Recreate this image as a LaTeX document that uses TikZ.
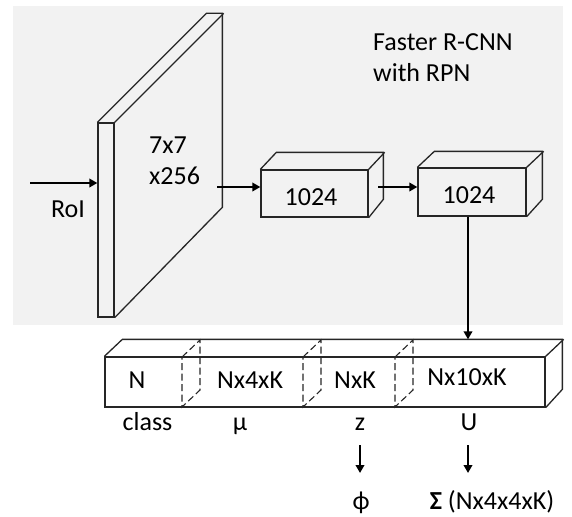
\documentclass[tikz,border=0pt]{standalone}
\usepackage{fontspec}
\setmainfont{Carlito}
\usetikzlibrary{arrows.meta}
\begin{document}
\begin{tikzpicture}[x=1pt,y=-1pt,
  face/.style={draw=black!85,line width=1.3pt,line join=miter},
  frontface/.style={face,rectangle,inner sep=0pt},
  hid/.style={draw=black!85,line width=1.1pt,dash pattern=on 7pt off 3.5pt},
  arr/.style={draw=black,line width=2.4pt,-{Triangle[length=8pt,width=8.5pt]}},
  lbl/.style={font=\fontsize{26}{31}\selectfont,text=black,inner sep=0pt}]
\useasboundingbox (0,0) rectangle (572,516);
\fill[black!5] (13,6) rectangle (563,325);
% slab
\node[frontface,minimum width=16pt,minimum height=194pt] (slab) at (106,220) {};
\draw[face] (slab.north west) -- ++(109,-109) -- ++(16,0) -- ++(0,194) -- (slab.south east);
\draw[face] (slab.north east) -- ++(109,-109);
\node[lbl,align=left,anchor=base west] (t77) at (149,184) {7x7\\x256};
% box1
\node[frontface,minimum width=107pt,minimum height=47pt] (box1) at (314.5,193.5) {};
\draw[face] (box1.north west) -- ++(16,-17) -- ++(107,0) -- ++(0,47) -- (box1.south east);
\draw[face] (box1.north east) -- ++(16,-17);
\node[lbl,anchor=base] (b1t) at (311,205) {1024};
% box2
\node[frontface,minimum width=108pt,minimum height=48pt] (box2) at (472,192) {};
\draw[face] (box2.north west) -- ++(17,-16) -- ++(108,0) -- ++(0,48) -- (box2.south east);
\draw[face] (box2.north east) -- ++(17,-16);
\node[lbl,anchor=base] (b2t) at (469,203) {1024};
% title
\node[lbl,align=left,anchor=base west] (title) at (373,82) {Faster R-CNN\\with RPN};
% RoI
\node[lbl,anchor=base] (roi) at (68,217) {RoI};
\coordinate (r0) at (30,183);
\draw[arr] (r0) -- (r0 -| slab.west);
\coordinate (s0) at (217,187);
\draw[arr] (s0) -- (s0 -| box1.west);
\coordinate (s1) at (378,187);
\draw[arr] (s1) -- (s1 -| box2.west);
% bottom bar
\node[frontface,minimum width=440pt,minimum height=50pt] (bar) at (325,382) {};
\draw[face] (bar.north west) -- ++(18,-17) -- ++(440,0) -- ++(0,50) -- (bar.south east);
\draw[face] (bar.north east) -- ++(18,-17);
\foreach \xx/\nm in {182/da,303/db,395/dc}{
  \coordinate (\nm) at (\xx,357);
  \draw[hid] (\nm) -- ++(18,-17) -- ++(0,50) -- ++(-18,17) -- cycle;
}
\coordinate (d3) at (468,0);
\draw[arr] (d3 |- box2.south) -- ([yshift=17pt]d3 |- bar.north);
\node[lbl,anchor=base] (nN) at (137,388) {N};
\node[lbl,anchor=base] (nmu) at (250,388) {Nx4xK};
\node[lbl,anchor=base] (nz) at (355,388) {NxK};
\node[lbl,anchor=base] (nU) at (467,385) {Nx10xK};
\node[lbl,anchor=base] (lc) at (147.5,430) {class};
\node[lbl,anchor=base] (lmu) at (240,430) {µ};
\node[lbl,anchor=base] (lz) at (360,430) {z};
\node[lbl,anchor=base] (lU) at (469,430) {U};
\node[lbl,anchor=base] (phi) at (361,509) {ϕ};
\node[lbl,anchor=base] (sig) at (492,509) {\textbf{Σ} (Nx4x4xK)};
\coordinate (z0) at (360,445);
\draw[arr] (z0) -- (z0 |- 0,473);
\coordinate (u0) at (468,445);
\draw[arr] (u0) -- (u0 |- 0,473);
\end{tikzpicture}
\end{document}
